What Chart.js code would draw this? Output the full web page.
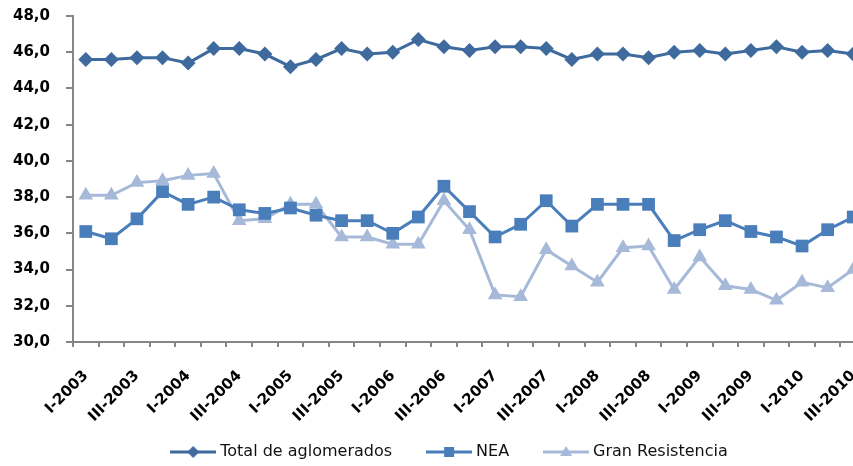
<!DOCTYPE html>
<html>
<head>
<meta charset="utf-8">
<script src="https://cdn.jsdelivr.net/npm/chart.js@4.4.0/dist/chart.umd.min.js"></script>
<style>
  html, body { margin: 0; padding: 0; background: #fff; overflow: hidden; }
  #wrap { position: relative; width: 902px; height: 470px; }
</style>
</head>
<body>
<div id="wrap"><canvas id="chart"></canvas></div>
<script>
// Quarters I-2003 .. III-2010
const quarters = [
  'I-2003','II-2003','III-2003','IV-2003',
  'I-2004','II-2004','III-2004','IV-2004',
  'I-2005','II-2005','III-2005','IV-2005',
  'I-2006','II-2006','III-2006','IV-2006',
  'I-2007','II-2007','III-2007','IV-2007',
  'I-2008','II-2008','III-2008','IV-2008',
  'I-2009','II-2009','III-2009','IV-2009',
  'I-2010','II-2010','III-2010'
];

const totalAglomerados = [45.6,45.6,45.7,45.7,45.4,46.2,46.2,45.9,45.2,45.6,46.2,45.9,46.0,46.7,46.3,46.1,
  46.3,46.3,46.2,45.6,45.9,45.9,45.7,46.0,46.1,45.9,46.1,46.3,46.0,46.1,45.9];
const nea = [36.1,35.7,36.8,38.3,37.6,38.0,37.3,37.1,37.4,37.0,36.7,36.7,36.0,36.9,38.6,37.2,
  35.8,36.5,37.8,36.4,37.6,37.6,37.6,35.6,36.2,36.7,36.1,35.8,35.3,36.2,36.9];
const granResistencia = [38.1,38.1,38.8,38.9,39.2,39.3,36.7,36.8,37.6,37.6,35.8,35.8,35.4,35.4,37.8,36.2,
  32.6,32.5,35.1,34.2,33.3,35.2,35.3,32.9,34.7,33.1,32.9,32.3,33.3,33.0,34.0];

const yTicks = [30, 32, 34, 36, 38, 40, 42, 44, 46, 48];

const seriesNames = ['Total de aglomerados', 'NEA', 'Gran Resistencia'];
const seriesColors = ['#3E6A9E', '#4A7EBB', '#A6B9D8'];
const seriesMarkers = ['rectRot', 'rect', 'triangle'];

// small legend swatch: line with marker in the middle
function legendSwatch(color, marker) {
  const c = document.createElement('canvas');
  c.width = 46; c.height = 16;
  const g = c.getContext('2d');
  g.strokeStyle = color;
  g.lineWidth = 3;
  g.beginPath(); g.moveTo(0, 8); g.lineTo(46, 8); g.stroke();
  g.fillStyle = color;
  g.beginPath();
  if (marker === 'rectRot') {
    g.moveTo(23, 2); g.lineTo(29, 8); g.lineTo(23, 14); g.lineTo(17, 8);
  } else if (marker === 'rect') {
    g.rect(18, 3, 10, 10);
  } else {
    g.moveTo(23, 2); g.lineTo(29, 12); g.lineTo(17, 12);
  }
  g.closePath(); g.fill();
  return c;
}
const swatches = seriesColors.map((c, i) => legendSwatch(c, seriesMarkers[i]));

const seriesData = [totalAglomerados, nea, granResistencia];
const markerRadius = [7.5, 9, 8.5];

const ctx = document.getElementById('chart').getContext('2d');
new Chart(ctx, {
  type: 'line',
  data: {
    labels: quarters,
    datasets: seriesNames.map((name, i) => ({
      label: name,
      data: seriesData[i],
      borderColor: seriesColors[i],
      backgroundColor: seriesColors[i],
      borderWidth: 3,
      pointStyle: seriesMarkers[i],
      pointRadius: markerRadius[i],
      pointHoverRadius: markerRadius[i],
      pointBorderWidth: 0,
      pointBackgroundColor: seriesColors[i],
      tension: 0
    }))
  },
  options: {
    responsive: true,
    maintainAspectRatio: false,
    animation: false,
    layout: { padding: { left: 0, top: 16, right: 0, bottom: 0 } },
    plugins: {
      tooltip: { enabled: false },
      legend: {
        position: 'bottom',
        labels: {
          usePointStyle: true,
          pointStyleWidth: 38,
          padding: 38,
          color: '#111',
          font: { family: 'DejaVu Sans', size: 16 },
          generateLabels: function(chart) {
            const items = Chart.defaults.plugins.legend.labels.generateLabels(chart);
            items.forEach((it, i) => { it.pointStyle = swatches[i]; });
            return items;
          }
        }
      }
    },
    scales: {
      x: {
        offset: true,
        grid: { display: true, drawOnChartArea: false, offset: true, tickLength: 5, color: '#868686', lineWidth: 2 },
        border: { color: '#868686', width: 2 },
        ticks: {
          autoSkip: false,
          maxRotation: 45,
          minRotation: 45,
          padding: 20,
          color: '#000',
          font: { family: 'DejaVu Sans', size: 15, weight: 'bold' },
          callback: function(val, i) { return i % 2 === 0 ? quarters[i] : ''; }
        },
        afterFit: function(scale) {
          scale.height = 64;
          // let the rotated labels run into the legend band instead of being clipped
          scale._computeLabelArea = function() { return undefined; };
        }
      },
      y: {
        min: yTicks[0],
        max: yTicks[yTicks.length - 1],
        grid: { display: true, drawOnChartArea: false, tickLength: 7, color: '#868686', lineWidth: 2 },
        border: { color: '#868686', width: 2 },
        ticks: {
          stepSize: 2,
          padding: 16,
          color: '#000',
          font: { family: 'DejaVu Sans', size: 15, weight: 'bold' },
          callback: function(v) { return v.toFixed(1).replace('.', ','); }
        },
        afterFit: function(scale) {
          scale.width = 73;
          scale.paddingTop = 0;
          scale.paddingBottom = 0;
        }
      },
      // empty box on the right: the plot runs past the visible edge like the original
      spacer: {
        type: 'linear',
        position: 'right',
        display: true,
        grid: { display: false },
        border: { display: false },
        ticks: { display: false },
        afterFit: function(scale) { scale.width = 36; }
      }
    }
  }
});
</script>
</body>
</html>
